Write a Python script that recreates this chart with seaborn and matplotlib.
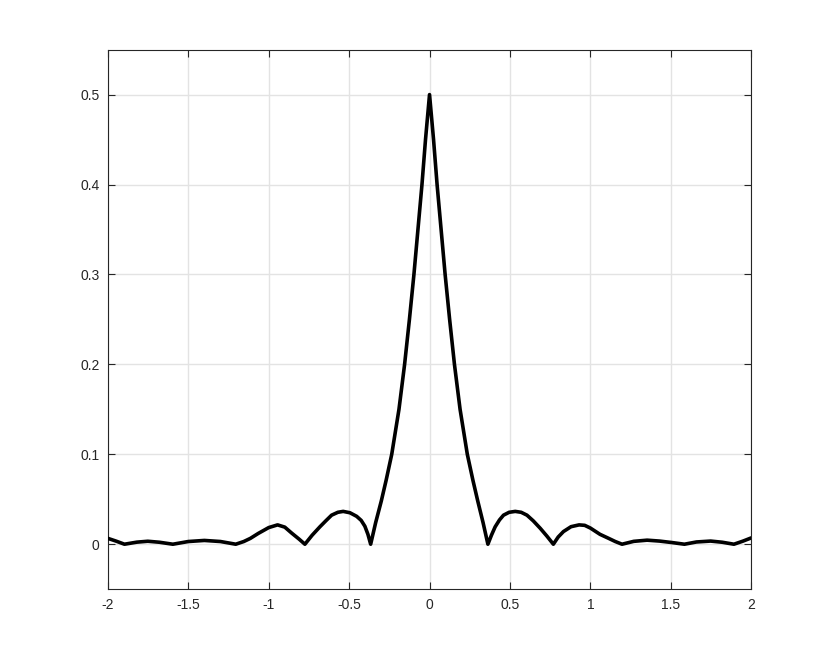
import matplotlib
matplotlib.use("Agg")
import matplotlib.pyplot as plt
import seaborn as sns
import pandas as pd

# Values (x, y)
x_vals = [-2.0, -1.95, -1.897, -1.82, -1.752, -1.68, -1.596, -1.50, -1.40, -1.30,
          -1.205, -1.155, -1.114, -1.065, -1.0, -0.945, -0.90, -0.858, -0.81, -0.775,
          -0.73, -0.682, -0.645, -0.609, -0.57, -0.537, -0.495, -0.453, -0.425, -0.402,
          -0.383, -0.366, -0.335, -0.30, -0.27, -0.235, -0.19, -0.155, -0.125, -0.097,
          -0.072, -0.047, -0.025, 0.0,
          0.025, 0.047, 0.072, 0.097, 0.125, 0.155, 0.190, 0.235, 0.270, 0.300, 0.333, 0.363,
          0.385, 0.408, 0.435, 0.460, 0.495, 0.533, 0.570, 0.606, 0.645, 0.688,
          0.730, 0.770, 0.800, 0.833, 0.880, 0.930, 0.965, 1.0, 1.06, 1.114,
          1.155, 1.197, 1.27, 1.353, 1.43, 1.51, 1.585, 1.66, 1.748, 1.82,
          1.893, 1.95, 2.0]
y_vals = [0.0065, 0.0035, 0.0, 0.0023, 0.0033, 0.0022, 0.0, 0.0030, 0.0042, 0.0030,
          0.0, 0.0030, 0.0065, 0.0120, 0.0185, 0.0215, 0.0190, 0.0125, 0.0055, 0.0,
          0.0100, 0.0193, 0.0260, 0.0323, 0.0355, 0.0365, 0.0350, 0.0310, 0.0265, 0.0200,
          0.0110, 0.0, 0.0240, 0.0480, 0.0710, 0.1000, 0.1500, 0.2000, 0.2500, 0.3000,
          0.3500, 0.4000, 0.4500, 0.5000,
          0.4500, 0.4000, 0.3500, 0.3000, 0.2500, 0.2000, 0.1500, 0.1000, 0.0710, 0.0480, 0.0240, 0.0,
          0.0100, 0.0193, 0.0270, 0.0323, 0.0355, 0.0365, 0.0355, 0.0323, 0.0260, 0.0178,
          0.0090, 0.0, 0.0080, 0.0141, 0.0195, 0.0215, 0.0210, 0.0180, 0.0110, 0.0065,
          0.0030, 0.0, 0.0032, 0.0045, 0.0035, 0.0018, 0.0, 0.0025, 0.0035, 0.0022,
          0.0, 0.0035, 0.0070]

x_ticks = [-2, -1.5, -1, -0.5, 0, 0.5, 1, 1.5, 2]
x_tick_labels = ["-2", "-1.5", "-1", "-0.5", "0", "0.5", "1", "1.5", "2"]
y_ticks = [0, 0.1, 0.2, 0.3, 0.4, 0.5]
y_tick_labels = ["0", "0.1", "0.2", "0.3", "0.4", "0.5"]

sns.set_theme(style="white")
plt.rcParams["font.family"] = ["Liberation Sans", "DejaVu Sans"]

df = pd.DataFrame({"x": x_vals, "y": y_vals})

fig = plt.figure(figsize=(8.3, 6.62), dpi=100)
ax = fig.add_axes([0.13, 0.11, 0.775, 0.815])

sns.lineplot(data=df, x="x", y="y", sort=False, color="black", linewidth=2.6,
             ax=ax, zorder=3)

ax.set_xlim(-2, 2)
ax.set_ylim(-0.05, 0.55)
ax.set_xticks(x_ticks)
ax.set_xticklabels(x_tick_labels)
ax.set_yticks(y_ticks)
ax.set_yticklabels(y_tick_labels)
ax.set_xlabel("")
ax.set_ylabel("")

ax.grid(True, color="#e3e3e3", linewidth=1.0)
ax.set_axisbelow(True)
for s in ax.spines.values():
    s.set_visible(True)
    s.set_color("#262626")
    s.set_linewidth(0.8)
ax.tick_params(axis="both", which="both", direction="in", length=5, width=0.8,
               color="#262626", labelcolor="#262626", labelsize=10,
               top=True, right=True, bottom=True, left=True, pad=6)

fig.savefig("out.png", dpi=100, facecolor="white")
